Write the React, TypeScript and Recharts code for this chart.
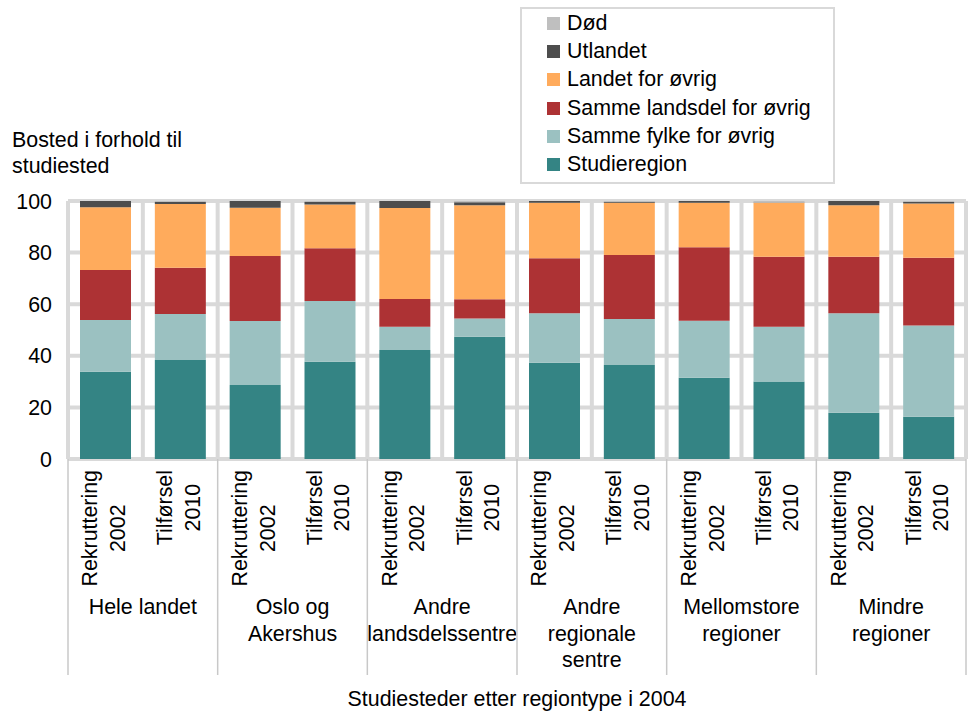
import { BarChart, Bar, XAxis, YAxis, CartesianGrid } from 'recharts';

// one row per bar: Rekruttering 2002 / Tilførsel 2010 for each region type
const groups = [
  'Hele landet',
  'Oslo og\nAkershus',
  'Andre\nlandsdelssentre',
  'Andre\nregionale\nsentre',
  'Mellomstore\nregioner',
  'Mindre\nregioner',
];
const periods = ['Rekruttering\n2002', 'Tilførsel\n2010'];

const studieregion = [33.8, 38.4, 28.7, 37.7, 42.2, 47.4, 37.3, 36.4, 31.5, 30.0, 17.9, 16.4];
const sammeFylke = [20.1, 17.8, 24.8, 23.5, 9.1, 7.1, 19.2, 17.9, 22.1, 21.3, 38.6, 35.3];
const sammeLandsdel = [19.4, 17.9, 25.2, 20.5, 10.7, 7.4, 21.3, 24.8, 28.5, 27.1, 21.9, 26.3];
const landetForOvrig = [24.3, 24.7, 18.7, 16.9, 35.3, 36.5, 21.5, 20.2, 17.2, 20.9, 20.0, 21.0];
const utlandet = [2.4, 0.8, 2.6, 1.0, 2.7, 1.1, 0.7, 0.3, 0.7, 0.1, 1.6, 0.6];
const dod = [0, 0.4, 0, 0.4, 0, 0.5, 0, 0.4, 0, 0.6, 0, 0.4];

const yTicks = [0, 20, 40, 60, 80, 100];
const yTitle = ['Bosted i forhold til', 'studiested'];
const xTitle = 'Studiesteder etter regiontype i 2004';

const series = [
  { key: 'studieregion', name: 'Studieregion', color: '#348484', values: studieregion },
  { key: 'sammeFylke', name: 'Samme fylke for øvrig', color: '#9bc1c1', values: sammeFylke },
  { key: 'sammeLandsdel', name: 'Samme landsdel for øvrig', color: '#ad3234', values: sammeLandsdel },
  { key: 'landet', name: 'Landet for øvrig', color: '#ffab5c', values: landetForOvrig },
  { key: 'utlandet', name: 'Utlandet', color: '#4d4d4d', values: utlandet },
  { key: 'dod', name: 'Død', color: '#bfbfbf', values: dod },
];

const rows = groups.flatMap((g, gi) =>
  periods.map((p, pi) => {
    const i = gi * periods.length + pi;
    const row: any = { id: `${gi}-${pi}`, group: g, period: p, first: pi === 0 };
    series.forEach((s) => (row[s.key] = s.values[i]));
    return row;
  })
);

const FONT = '"Liberation Sans", Arial, sans-serif';
const FS = 21.4;

let ctx: CanvasRenderingContext2D | null = null;
function textWidth(t: string) {
  if (!ctx) ctx = document.createElement('canvas').getContext('2d');
  if (!ctx) return t.length * 10;
  ctx.font = `${FS}px "Liberation Sans"`;
  return ctx.measureText(t).width;
}

function XTick(props: any) {
  const { x, y, payload, index } = props;
  const row = rows[index];
  if (!row) return null;
  const half = payload?.offset || 37.4;
  const lines = row.period.split('\n');
  const w = Math.max(...lines.map(textWidth));
  const cy = y + 11 + w / 2;
  const gLines = row.group.split('\n');
  const last = index === rows.length - 1;
  return (
    <g>
      <text transform={`translate(${x},${cy}) rotate(-90)`} textAnchor="middle" fontSize={FS} fill="#000">
        {lines.map((l: string, i: number) => (
          <tspan key={i} x={0} y={-8 + i * 27.5}>
            {l}
          </tspan>
        ))}
      </text>
      {row.first && (
        <>
          <line x1={x - half} x2={x - half} y1={y} y2={675} stroke="#c8c8c8" strokeWidth={1.5} />
          <text x={x + half} y={y + 155} textAnchor="middle" fontSize={FS} fill="#000">
            {gLines.map((l: string, i: number) => (
              <tspan key={i} x={x + half} dy={i === 0 ? 0 : 26.7}>
                {l}
              </tspan>
            ))}
          </text>
        </>
      )}
      {last && <line x1={x + half} x2={x + half} y1={y} y2={675} stroke="#c8c8c8" strokeWidth={1.5} />}
    </g>
  );
}

function YTitle(props: any) {
  const vb = props.viewBox || { x: 8, y: 201 };
  return (
    <text x={vb.x + 4} y={vb.y - 54} fontSize={FS} fill="#000">
      {yTitle.map((l, i) => (
        <tspan key={i} x={vb.x + 4} dy={i === 0 ? 0 : 26}>
          {l}
        </tspan>
      ))}
    </text>
  );
}

export default function App() {
  return (
    <div style={{ position: 'absolute', left: 0, top: 0, width: 968, height: 712, fontFamily: FONT, background: '#fff' }}>
      <BarChart width={968} height={712} data={rows} margin={{ top: 201, right: 2, bottom: 0, left: 8 }} barSize={51}>
        <CartesianGrid
          stroke="#d9d9d9"
          strokeWidth={4}
          verticalCoordinatesGenerator={({ offset }: any) =>
            Array.from({ length: rows.length + 1 }, (_, i) => offset.left + (i * offset.width) / rows.length)
          }
        />
        <XAxis
          dataKey="id"
          interval={0}
          axisLine={false}
          tickLine={false}
          tickSize={0}
          tickMargin={0}
          height={253}
          tick={<XTick />}
          label={{ value: xTitle, position: 'insideBottom', offset: 6, fontSize: FS, fill: '#000' }}
        />
        <YAxis
          type="number"
          domain={[0, 100]}
          ticks={yTicks}
          width={60}
          axisLine={false}
          tickLine={false}
          tickMargin={10}
          tick={{ fontSize: FS, fill: '#000' }}
          label={{ content: <YTitle /> }}
        />
        {series.map((s) => (
          <Bar key={s.key} dataKey={s.key} name={s.name} stackId="a" fill={s.color} isAnimationActive={false} />
        ))}
      </BarChart>
      <div
        style={{
          position: 'absolute',
          left: 520,
          top: 7,
          width: 315,
          height: 177,
          boxSizing: 'border-box',
          border: '2px solid #d9d9d9',
          background: '#fff',
          fontSize: FS,
          color: '#000',
        }}
      >
        {[...series].reverse().map((s) => (
          <div key={s.key} style={{ display: 'flex', alignItems: 'center', height: 28.3, paddingLeft: 25 }}>
            <span style={{ display: 'inline-block', width: 13, height: 13, background: s.color, marginRight: 7 }} />
            <span>{s.name}</span>
          </div>
        ))}
      </div>
    </div>
  );
}
